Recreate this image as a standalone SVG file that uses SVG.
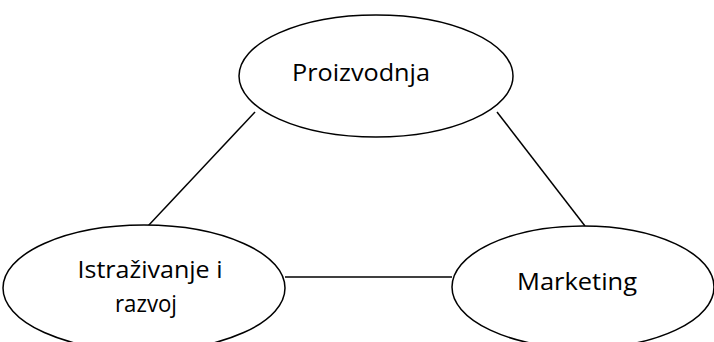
<svg xmlns="http://www.w3.org/2000/svg" width="714" height="342" viewBox="0 0 714 342">
<style>
.node ellipse{fill:#fff;stroke:#000;stroke-width:1.5}
.lbl{font-family:"Open Sans","Noto Sans","Liberation Sans",sans-serif;font-size:24px;fill:#000;text-anchor:middle}
#connectors line{stroke:#000;stroke-width:1.5}
</style>
<rect width="714" height="342" fill="#fff"/>
<g id="connectors">
<line x1="255" y1="112" x2="148" y2="226"/>
<line x1="497" y1="112" x2="585" y2="226"/>
<line x1="285" y1="277" x2="452" y2="277"/>
</g>
<g id="proizvodnja" class="node">
<ellipse cx="376" cy="76" rx="137" ry="61"/>
<text class="lbl" x="361" y="81" textLength="138" lengthAdjust="spacingAndGlyphs">Proizvodnja</text>
</g>
<g id="istrazivanje" class="node">
<ellipse cx="144" cy="288" rx="141" ry="63"/>
<text class="lbl" x="150" y="278" textLength="145" lengthAdjust="spacingAndGlyphs">Istraživanje i</text>
<text class="lbl" x="146" y="312" textLength="62" lengthAdjust="spacingAndGlyphs">razvoj</text>
</g>
<g id="marketing" class="node">
<ellipse cx="583" cy="287" rx="131" ry="61"/>
<text class="lbl" x="577" y="290" textLength="120" lengthAdjust="spacingAndGlyphs">Marketing</text>
</g>
</svg>
